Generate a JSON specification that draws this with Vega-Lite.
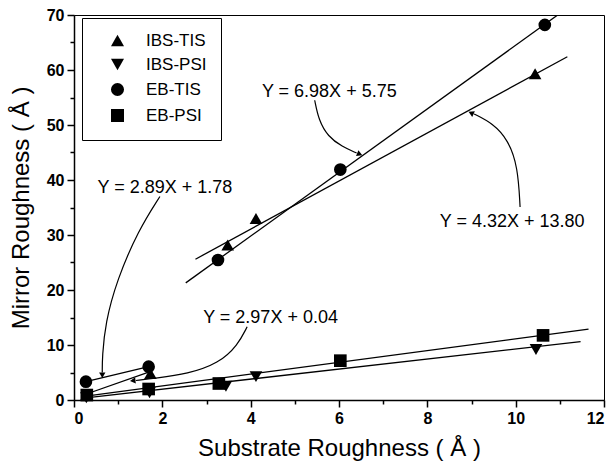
{
  "$schema": "https://vega.github.io/schema/vega-lite/v6.json",
  "width": 530,
  "height": 385,
  "autosize": {"type": "none"},
  "padding": {"left": 74, "top": 15, "right": 7, "bottom": 61},
  "background": "white",
  "config": {
    "font": "Liberation Sans",
    "view": {"stroke": "black", "strokeWidth": 1},
    "axis": {
      "grid": false,
      "domainColor": "black",
      "domainWidth": 1.5,
      "tickColor": "black",
      "tickWidth": 1.5,
      "labelColor": "black",
      "titleColor": "black",
      "labelFont": "Liberation Sans",
      "titleFont": "Liberation Sans",
      "labelFontSize": 16,
      "labelFontWeight": "bold",
      "titleFontSize": 24,
      "titleFontWeight": "normal"
    },
    "legend": {
      "orient": "none",
      "legendX": 8,
      "legendY": 3,
      "strokeColor": "black",
      "strokeWidth": 1,
      "fillColor": "white",
      "padding": 14,
      "symbolOffset": 13,
      "labelOffset": 20,
      "rowPadding": 5,
      "labelFont": "Liberation Sans",
      "labelFontSize": 17,
      "labelColor": "black",
      "symbolSize": 170,
      "symbolFillColor": "black",
      "symbolStrokeColor": "black"
    }
  },
  "datasets": {
    "points": [
      {"series": "IBS-TIS", "x": 0.28, "y": 0.9},
      {"series": "IBS-TIS", "x": 1.73, "y": 4.8},
      {"series": "IBS-TIS", "x": 3.48, "y": 28.2},
      {"series": "IBS-TIS", "x": 4.12, "y": 33.0},
      {"series": "IBS-TIS", "x": 10.44, "y": 59.3},
      {"series": "IBS-PSI", "x": 0.28, "y": 0.4},
      {"series": "IBS-PSI", "x": 1.71, "y": 1.3},
      {"series": "IBS-PSI", "x": 3.44, "y": 2.5},
      {"series": "IBS-PSI", "x": 4.12, "y": 4.25},
      {"series": "IBS-PSI", "x": 10.46, "y": 9.2},
      {"series": "EB-TIS", "x": 0.27, "y": 3.33},
      {"series": "EB-TIS", "x": 1.69, "y": 6.06},
      {"series": "EB-TIS", "x": 3.26, "y": 25.45},
      {"series": "EB-TIS", "x": 6.03, "y": 41.9},
      {"series": "EB-TIS", "x": 10.66, "y": 68.2},
      {"series": "EB-PSI", "x": 0.29, "y": 0.9},
      {"series": "EB-PSI", "x": 1.69, "y": 2.0},
      {"series": "EB-PSI", "x": 3.28, "y": 3.0},
      {"series": "EB-PSI", "x": 6.03, "y": 7.15},
      {"series": "EB-PSI", "x": 10.62, "y": 11.75}
    ],
    "fits": [
      {"line": "EB-TIS high", "x": 2.53, "y": 21.3},
      {"line": "EB-TIS high", "x": 11.02, "y": 70.4},
      {"line": "IBS-TIS high", "x": 2.75, "y": 25.6},
      {"line": "IBS-TIS high", "x": 11.17, "y": 62.4},
      {"line": "EB-TIS low", "x": 0.27, "y": 3.33},
      {"line": "EB-TIS low", "x": 1.69, "y": 6.06},
      {"line": "IBS-TIS low", "x": 0.25, "y": 1.0},
      {"line": "IBS-TIS low", "x": 1.74, "y": 5.2},
      {"line": "EB-PSI", "x": 0.27, "y": 0.7},
      {"line": "EB-PSI", "x": 11.65, "y": 12.9},
      {"line": "IBS-PSI", "x": 0.27, "y": 0.4},
      {"line": "IBS-PSI", "x": 11.47, "y": 10.6}
    ],
    "arrows": [
      {"arrow": "a698", "i": 0, "x": 5.45, "y": 54.5},
      {"arrow": "a698", "i": 1, "x": 5.54, "y": 50.9},
      {"arrow": "a698", "i": 2, "x": 5.75, "y": 47.9},
      {"arrow": "a698", "i": 3, "x": 6.07, "y": 46.05},
      {"arrow": "a698", "i": 4, "x": 6.4, "y": 44.9},
      {"arrow": "a432", "i": 0, "x": 10.1, "y": 35.1},
      {"arrow": "a432", "i": 1, "x": 10.05, "y": 42.4},
      {"arrow": "a432", "i": 2, "x": 9.83, "y": 47.3},
      {"arrow": "a432", "i": 3, "x": 9.48, "y": 50.3},
      {"arrow": "a432", "i": 4, "x": 9.06, "y": 52.0},
      {"arrow": "a289", "i": 0, "x": 1.945, "y": 37.0},
      {"arrow": "a289", "i": 1, "x": 1.46, "y": 30.9},
      {"arrow": "a289", "i": 2, "x": 0.97, "y": 21.8},
      {"arrow": "a289", "i": 3, "x": 0.71, "y": 14.0},
      {"arrow": "a289", "i": 4, "x": 0.64, "y": 7.9},
      {"arrow": "a289", "i": 5, "x": 0.64, "y": 5.0},
      {"arrow": "a297", "i": 0, "x": 3.92, "y": 13.3},
      {"arrow": "a297", "i": 1, "x": 3.71, "y": 10.0},
      {"arrow": "a297", "i": 2, "x": 3.28, "y": 6.67},
      {"arrow": "a297", "i": 3, "x": 2.57, "y": 4.73},
      {"arrow": "a297", "i": 4, "x": 1.85, "y": 3.95},
      {"arrow": "a297", "i": 5, "x": 1.4, "y": 3.55}
    ],
    "heads": [
      {"arrow": "a698", "x": 6.47, "y": 44.7},
      {"arrow": "a432", "x": 8.99, "y": 52.2},
      {"arrow": "a289", "x": 0.64, "y": 4.5},
      {"arrow": "a297", "x": 1.33, "y": 3.5}
    ],
    "labels": [
      {"text": "Y = 6.98X + 5.75", "x": 5.78, "y": 56.05},
      {"text": "Y = 4.32X + 13.80", "x": 9.92, "y": 32.4},
      {"text": "Y = 2.89X + 1.78", "x": 2.06, "y": 38.5},
      {"text": "Y = 2.97X + 0.04", "x": 4.45, "y": 14.85}
    ]
  },
  "layer": [
    {
      "data": {"name": "fits"},
      "mark": {"type": "line", "color": "black", "strokeWidth": 1.3, "clip": true},
      "encoding": {
        "x": {"field": "x", "type": "quantitative", "scale": {"domain": [0, 12], "nice": false},
          "axis": {"orient": "bottom", "values": [0, 2, 4, 6, 8, 10, 12], "tickSize": 7, "labelPadding": 3, "title": "Substrate Roughness ( Å )", "titlePadding": 10}},
        "y": {"field": "y", "type": "quantitative", "scale": {"domain": [0, 70], "nice": false},
          "axis": {"orient": "left", "values": [0, 10, 20, 30, 40, 50, 60, 70], "tickSize": 7, "labelPadding": 3, "title": "Mirror Roughness ( Å )", "titlePadding": 13}},
        "detail": {"field": "line"}
      }
    },
    {
      "data": {"name": "points"},
      "mark": {"type": "point", "opacity": 0},
      "encoding": {
        "x": {"field": "x", "type": "quantitative",
          "axis": {"orient": "bottom", "values": [1, 3, 5, 7, 9, 11], "tickSize": 4, "labels": false, "domain": false, "title": null}},
        "y": {"field": "y", "type": "quantitative",
          "axis": {"orient": "left", "values": [5, 15, 25, 35, 45, 55, 65], "tickSize": 4, "labels": false, "domain": false, "title": null}}
      }
    },
    {
      "data": {"name": "arrows"},
      "mark": {"type": "line", "color": "black", "strokeWidth": 1.2, "interpolate": "basis"},
      "encoding": {
        "x": {"field": "x", "type": "quantitative", "axis": null},
        "y": {"field": "y", "type": "quantitative", "axis": null},
        "detail": {"field": "arrow"},
        "order": {"field": "i", "type": "quantitative"}
      }
    },
    {
      "data": {"name": "heads"},
      "transform": [{"filter": "datum.arrow === 'a698'"}],
      "mark": {"type": "point", "shape": "triangle-right", "angle": 22, "filled": true, "color": "black", "opacity": 1, "size": 40},
      "encoding": {
        "x": {"field": "x", "type": "quantitative", "axis": null},
        "y": {"field": "y", "type": "quantitative", "axis": null}
      }
    },
    {
      "data": {"name": "heads"},
      "transform": [{"filter": "datum.arrow === 'a432'"}],
      "mark": {"type": "point", "shape": "triangle-left", "angle": 25, "filled": true, "color": "black", "opacity": 1, "size": 40},
      "encoding": {
        "x": {"field": "x", "type": "quantitative", "axis": null},
        "y": {"field": "y", "type": "quantitative", "axis": null}
      }
    },
    {
      "data": {"name": "heads"},
      "transform": [{"filter": "datum.arrow === 'a289'"}],
      "mark": {"type": "point", "shape": "triangle-down", "filled": true, "color": "black", "opacity": 1, "size": 40},
      "encoding": {
        "x": {"field": "x", "type": "quantitative", "axis": null},
        "y": {"field": "y", "type": "quantitative", "axis": null}
      }
    },
    {
      "data": {"name": "heads"},
      "transform": [{"filter": "datum.arrow === 'a297'"}],
      "mark": {"type": "point", "shape": "triangle-left", "angle": -6, "filled": true, "color": "black", "opacity": 1, "size": 40},
      "encoding": {
        "x": {"field": "x", "type": "quantitative", "axis": null},
        "y": {"field": "y", "type": "quantitative", "axis": null}
      }
    },
    {
      "data": {"name": "labels"},
      "mark": {"type": "text", "font": "Liberation Sans", "fontSize": 18, "color": "black", "align": "center", "baseline": "middle"},
      "encoding": {
        "x": {"field": "x", "type": "quantitative", "axis": null},
        "y": {"field": "y", "type": "quantitative", "axis": null},
        "text": {"field": "text"}
      }
    },
    {
      "data": {"name": "points"},
      "mark": {"type": "point", "filled": true, "color": "black", "opacity": 1, "size": 160},
      "encoding": {
        "x": {"field": "x", "type": "quantitative", "axis": null},
        "y": {"field": "y", "type": "quantitative", "axis": null},
        "shape": {"field": "series", "type": "nominal",
          "scale": {"domain": ["IBS-TIS", "IBS-PSI", "EB-TIS", "EB-PSI"], "range": ["triangle-up", "triangle-down", "circle", "square"]},
          "legend": {"title": null}}
      }
    }
  ],
  "resolve": {"axis": {"x": "independent", "y": "independent"}}
}
